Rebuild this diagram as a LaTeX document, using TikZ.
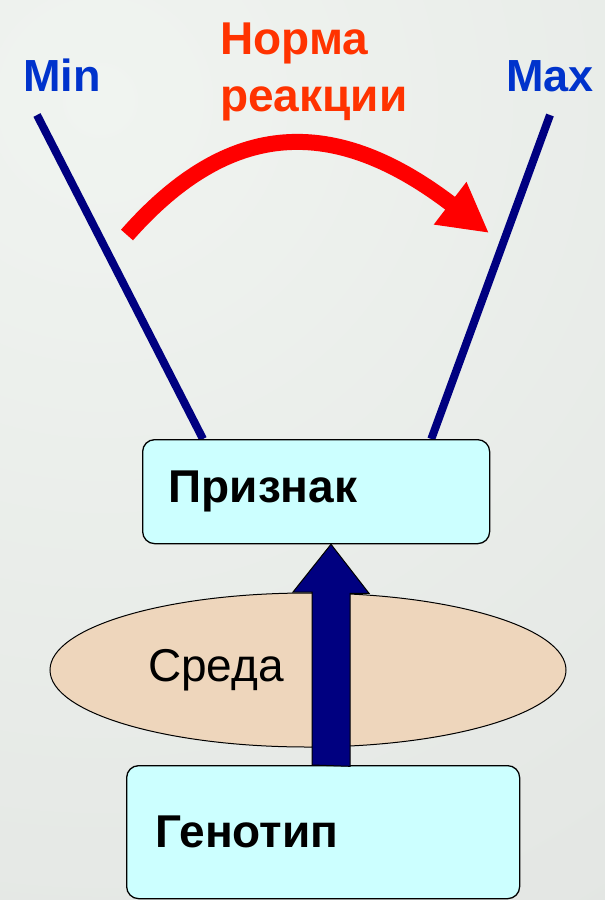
\documentclass[tikz,border=0pt]{standalone}
\usepackage{fontspec}
\setmainfont{Liberation Sans}
\usepackage{tikz}
\usetikzlibrary{arrows.meta,positioning,shapes.geometric,backgrounds}
\definecolor{rangenavy}{RGB}{0,0,128}
\definecolor{limitblue}{RGB}{0,51,204}
\definecolor{normorange}{RGB}{255,51,0}
\definecolor{normred}{RGB}{255,0,0}
\definecolor{boxcyan}{RGB}{204,255,255}
\definecolor{envpeach}{RGB}{238,214,188}
\definecolor{slidelight}{RGB}{240,244,240}
\definecolor{slidemid}{RGB}{228,231,228}
\definecolor{slidemidb}{RGB}{220,224,220}
\definecolor{slidedark}{RGB}{174,176,174}
\pgfdeclareradialshading{slideshade}{\pgfpoint{0bp}{0bp}}{color(0bp)=(slidelight); color(22.5bp)=(slidemid); color(35bp)=(slidemidb); color(47.5bp)=(slidedark); color(50bp)=(slidedark)}

\begin{document}
\begin{tikzpicture}[
    x=1pt, y=-1pt,
    every node/.style={font=\fontsize{46}{56}\selectfont},
    limit/.style={text=limitblue, inner sep=0pt, anchor=base, font=\fontsize{45}{54}\selectfont\bfseries},
    normlabel/.style={text=normorange, inner sep=0pt, align=left, anchor=north west, font=\fontsize{46}{57}\selectfont\bfseries},
    levelbox/.style={rectangle, rounded corners=12pt, draw, line width=1.3pt, fill=boxcyan, inner xsep=26pt, inner ysep=0pt, align=left, anchor=north west, font=\fontsize{46}{56}\selectfont\bfseries},
    envnode/.style={ellipse, draw, line width=1pt, fill=envpeach, inner sep=0pt, minimum width=516pt, minimum height=154pt, text width=320pt, align=left},
    rangeline/.style={rangenavy, line width=8pt},
    normarrow/.style={normred, line width=16pt, -{Triangle[length=49pt, width=50pt]}},
    blockarrow/.style={draw=black, line width=1pt, fill=rangenavy}
]
\useasboundingbox (0,0) rectangle (605,900);

% Labels
\node[limit] (min) at (62,91) {Min};
\node[limit] (max) at (550,91) {Max};
\node[normlabel] (norm) at (220,23) {Норма\\реакции};

% Levels
\node[levelbox, minimum width=347pt, minimum height=104pt, text width=295pt] (trait) at (142,439) {Признак};
\node[envnode] (env) at (308,670) {Среда};
\node[levelbox, minimum width=393pt, minimum height=133pt, text width=335pt, inner xsep=29pt] (geno) at (126,765) {Генотип};

% Range lines and background
\begin{scope}[on background layer]
\begin{scope}
\clip (0,0) rectangle (605,900);
\shade[shading=slideshade] (100,100) circle (1000);
\end{scope}
\coordinate (minTop) at (37,115);
\coordinate (maxTop) at (550,115);
\draw[rangeline] (minTop) -- ([xshift=61pt]trait.north west);
\draw[rangeline] (maxTop) -- ([xshift=-59pt]trait.north east);
\end{scope}

% Reaction norm
\coordinate (normStart) at (127,235);
\coordinate (normEnd) at (489,233);
\draw[normarrow] (normStart) .. controls (230,118) and (335,115) .. (normEnd);

% Genotype -> trait
\coordinate (up) at (331,765);
\coordinate (upTip) at (up |- trait.south);
\draw[blockarrow] (up) ++(-19,0) -- ++(0,-173) -- ++(-19,0) -- (upTip) -- ++(38,49) -- ++(-19,0) -- ++(0,173) -- cycle;

\end{tikzpicture}
\end{document}
